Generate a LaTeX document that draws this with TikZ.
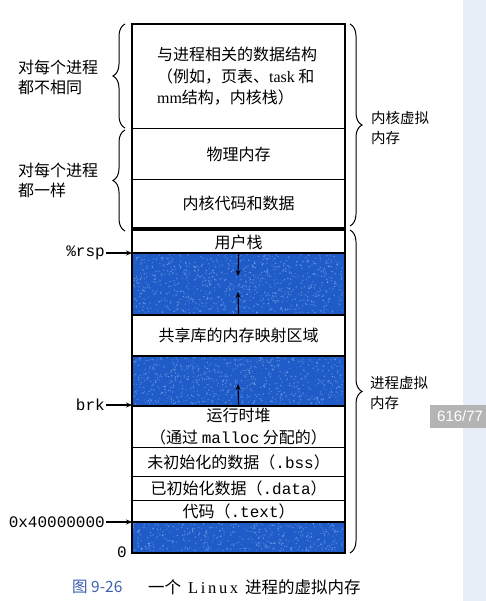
\documentclass[tikz,border=0pt]{standalone}
\usepackage{fontspec}
\setmainfont{Liberation Serif}
\setmonofont{Liberation Mono}
\setsansfont{Liberation Sans}
\newfontfamily\cjk{Noto Sans CJK SC}
\usetikzlibrary{decorations.pathreplacing,arrows.meta}

\definecolor{memblue}{RGB}{32,92,200}
\definecolor{speck}{RGB}{140,180,240}
\definecolor{capblue}{RGB}{60,95,175}
\definecolor{sidepanel}{RGB}{232,238,247}
\definecolor{badgegray}{RGB}{180,180,180}

\newcommand\segfont{\fontsize{16bp}{21.5bp}\selectfont\cjk}
\newcommand\mono[1]{{\ttfamily\fontsize{16bp}{21.5bp}\selectfont #1}}

\begin{document}
\begin{tikzpicture}[x=1bp,y=-1bp,
  seg/.style={draw=black, line width=1.2bp, minimum width=212bp, inner sep=0pt,
              anchor=north west, align=center, font=\segfont},
  gapseg/.style={seg, fill=memblue},
  ptr/.style={-{Stealth[length=6bp,width=5bp]}, line width=1.1bp},
  brc/.style={decorate, decoration={brace, amplitude=12bp}, line width=1bp},
  sidelabel/.style={align=left, inner sep=0pt, anchor=west,
                    font=\fontsize{16bp}{20bp}\selectfont\cjk},
  rlabel/.style={align=left, inner sep=0pt, anchor=west,
                 font=\fontsize{14.5bp}{19.5bp}\selectfont\cjk},
  ptrlabel/.style={inner sep=1bp, anchor=east,
                   font=\fontsize{16bp}{18bp}\selectfont\ttfamily},
]
% page and right-hand side panel
\useasboundingbox (0,0) rectangle (486,601);
\fill[white] (0,0) rectangle (486,601);
\fill[sidepanel] (463,0) rectangle (486,601);

% kernel virtual memory
\node[seg, minimum height=104bp] (kds) at (132,24) {%
  \begin{minipage}{163bp}\segfont
  与进程相关的数据结构\\
  （例如，页表、{\rmfamily task} 和\\
  {\rmfamily mm}结构，内核栈）
  \end{minipage}};
\node[seg, minimum height=51bp] (phys) at (132,128) {物理内存};
\node[seg, minimum height=48bp] (kcode) at (132,179) {内核代码和数据};

% process virtual memory
\node[seg, minimum height=23bp] (ustack) at (132,230) {用户栈};
\node[gapseg, minimum height=61bp] (gap1) at (132,253) {};
\node[seg, minimum height=42bp] (shlib) at (132,314) {共享库的内存映射区域};
\node[gapseg, minimum height=49bp] (gap2) at (132,356) {};
\node[seg, minimum height=42bp] (heap) at (132,405)
  {运行时堆\\（通过 \mono{malloc} 分配的）};
\node[seg, minimum height=29bp] (bss) at (132,447) {未初始化的数据（\mono{.bss}）};
\node[seg, minimum height=24bp] (data) at (132,476) {已初始化数据（\mono{.data}）};
\node[seg, minimum height=22bp] (text) at (132,500) {代码（\mono{.text}）};
\node[gapseg, minimum height=30bp] (gap3) at (132,522) {};

% speckled texture of the unmapped gaps
\pgfmathsetseed{26}
\foreach \ya/\yb/\n in {254/313/900, 357/404/720, 523/551/440} {
  \begin{scope}
    \clip (132.8,\ya) rectangle (343.2,\yb);
    \foreach \i in {1,...,\n} {
      \pgfmathsetmacro\px{132+212*rnd}
      \pgfmathsetmacro\py{\ya+(\yb-\ya)*rnd}
      \pgfmathsetmacro\op{0.25+0.45*rnd}
      \fill[speck, opacity=\op] (\px,\py) circle[radius=0.75bp];
    }
  \end{scope}
}
\foreach \g in {gap1,gap2,gap3}
  \draw[line width=1.2bp] (\g.north west) rectangle (\g.south east);

% outer frames and the kernel/user boundary
\draw[line width=1.5bp] (kds.north west) rectangle (kcode.south east);
\draw[line width=1.5bp] (ustack.north west) rectangle (gap3.south east);
\draw[line width=3bp] (kcode.south west) -- (kcode.south east);

% growth arrows of stack and heap
\coordinate (stackend) at (238,276);
\coordinate (mmapend) at (238,292);
\coordinate (heapend) at (238,384);
\draw[ptr] (gap1.north) -- (stackend);
\draw[ptr] (gap1.south) -- (mmapend);
\draw[ptr] (gap2.south) -- (heapend);

% address pointers
\node[ptrlabel] (rsp) at (106,253) {\%rsp};
\node[ptrlabel] (brk) at (106,405) {brk};
\node[ptrlabel] (base) at (106,522) {0x40000000};
\node[ptrlabel] (zero) at (128,552) {0};
\draw[ptr] (rsp.east) -- (gap1.north west);
\draw[ptr] (brk.east) -- (heap.north west);
\draw[ptr] (base.east) -- (gap3.north west);

% braces and their labels
\coordinate (lb1a) at (125,128); \coordinate (lb1b) at (125,24);
\coordinate (lb2a) at (125,231); \coordinate (lb2b) at (125,130);
\coordinate (rb1a) at (350,24);  \coordinate (rb1b) at (350,226);
\coordinate (rb2a) at (350,230); \coordinate (rb2b) at (350,553);
\draw[brc] (lb1a) -- (lb1b);
\draw[brc] (lb2a) -- (lb2b);
\draw[brc] (rb1a) -- (rb1b);
\draw[brc] (rb2a) -- (rb2b);

\node[sidelabel] (diff) at (18,77) {对每个进程\\都不相同};
\node[sidelabel] (same) at (18,180) {对每个进程\\都一样};
\node[rlabel] (kvm) at (371,128) {内核虚拟\\内存};
\node[rlabel] (pvm) at (370,393) {进程虚拟\\内存};

% caption
\node[anchor=west, inner sep=0pt, text=capblue,
      font=\fontsize{15.5bp}{18bp}\selectfont\cjk] (capnum) at (72,587) {图 9-26};
\node[anchor=west, inner sep=0pt, font=\fontsize{16.5bp}{18bp}\selectfont] (captext) at (148,587)
  {{\cjk 一个}\hspace{7bp}\makebox[50bp][s]{L\hfill i\hfill n\hfill u\hfill x}\hspace{7bp}{\cjk 进程的虚拟内存}};

% page counter badge
\fill[badgegray] (430,405) rectangle (486,428);
\node[anchor=west, inner sep=0pt, text=white,
      font=\fontsize{15bp}{18bp}\selectfont\sffamily] (pagecount) at (437,416.5) {616/77};
\end{tikzpicture}
\end{document}
